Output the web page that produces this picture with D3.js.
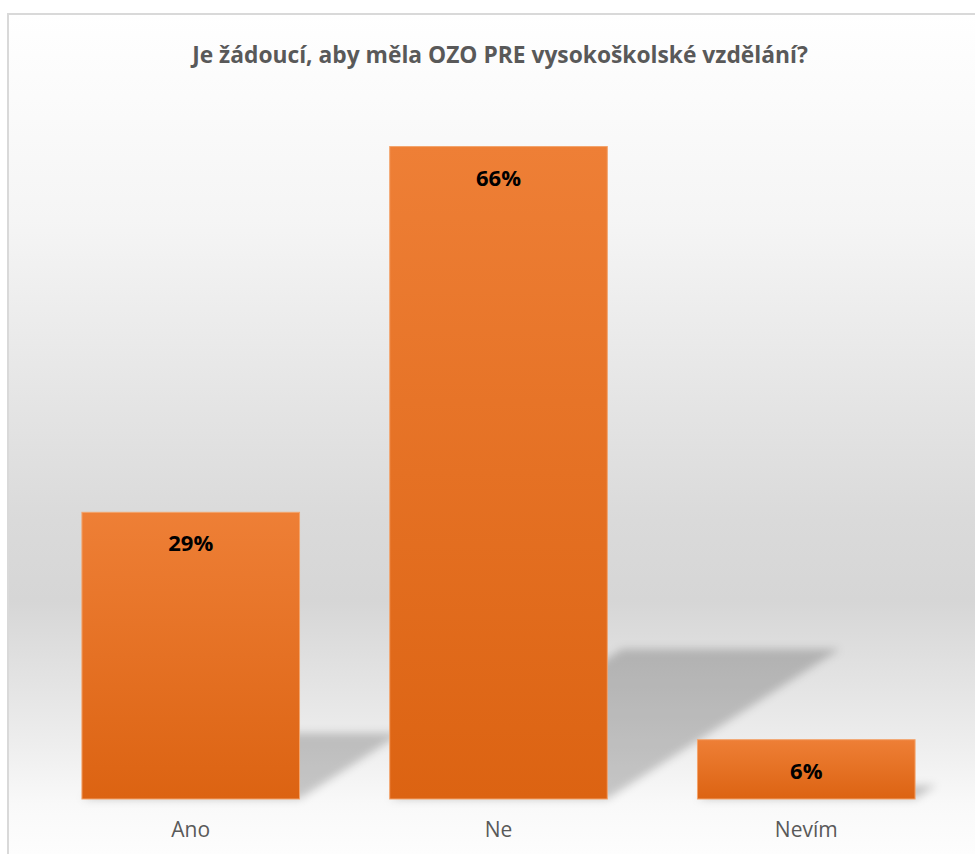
<!DOCTYPE html>
<html>
<head>
<meta charset="utf-8">
<script src="https://cdn.jsdelivr.net/npm/d3@7"></script>
<style>
  body { margin: 0; background: #fff; }
  svg { display: block; }
</style>
</head>
<body>
<svg id="chart" width="975" height="854"></svg>
<script>
let categories = ["Ano", "Ne", "Nevím"];
let values = [29, 66, 6];
let valueLabels = ["29%", "66%", "6%"];
let titleText = "Je žádoucí, aby měla OZO PRE vysokoškolské vzdělání?";

let svg = d3.select("#chart");
let width = +svg.attr("width");
let height = +svg.attr("height");
let font = "'Open Sans', 'Noto Sans', sans-serif";

let defs = svg.append("defs");

// Background gradient of the chart area.
let bg = defs.append("linearGradient")
    .attr("id", "bgGrad")
    .attr("gradientUnits", "userSpaceOnUse")
    .attr("x1", 0).attr("y1", 14).attr("x2", 0).attr("y2", 854);
[[14, "#ffffff"], [220, "#f5f5f5"], [520, "#dadada"], [600, "#d6d6d6"],
 [735, "#ececec"], [805, "#f9f9f9"], [854, "#fdfdfd"]].forEach(s => {
    bg.append("stop").attr("offset", (s[0] - 14) / 840).attr("stop-color", s[1]);
});

// Bar gradient.
let barGrad = defs.append("linearGradient")
    .attr("id", "barGrad")
    .attr("x1", 0).attr("y1", 0).attr("x2", 0).attr("y2", 1);
barGrad.append("stop").attr("offset", 0).attr("stop-color", "#ee7f36");
barGrad.append("stop").attr("offset", 1).attr("stop-color", "#dc6312");

defs.append("filter")
    .attr("id", "blur")
    .attr("x", "-20%").attr("y", "-20%").attr("width", "140%").attr("height", "140%")
    .append("feGaussianBlur").attr("stdDeviation", 4);

// Chart area with border.
svg.append("rect")
    .attr("x", 8).attr("y", 14)
    .attr("width", 1000).attr("height", 900)
    .attr("fill", "url(#bgGrad)")
    .attr("stroke", "#d9d9d9")
    .attr("stroke-width", 2);

// Title.
let title = svg.append("text")
    .attr("x", 500)
    .attr("y", 63)
    .attr("text-anchor", "middle")
    .attr("font-family", font)
    .attr("font-weight", "bold")
    .attr("font-size", 20)
    .attr("fill", "#595959")
    .text(titleText);
let tl = title.node().getComputedTextLength();
title.attr("font-size", 20 * 616 / tl);

// Scales.
let x = d3.scaleBand()
    .domain(categories)
    .range([37, 960])
    .paddingInner(0.293)
    .paddingOuter(0.146);

let y = d3.scaleLinear()
    .domain([0, 70])
    .range([799, 107]);

let data = categories.map((c, i) => ({ cat: c, value: values[i], label: valueLabels[i] }));

// Perspective shadows behind the bars.
let shadowRatio = 0.23, skew = 1.55;
svg.append("g")
    .attr("filter", "url(#blur)")
    .selectAll("path")
    .data(data)
    .join("path")
    .attr("d", d => {
        let x0 = x(d.cat), x1 = x(d.cat) + x.bandwidth();
        let b = y(0);
        let h = (y(0) - y(d.value)) * shadowRatio;
        let s = h * skew;
        return "M" + x0 + "," + b + "L" + x1 + "," + b +
            "L" + (x1 + s) + "," + (b - h) + "L" + (x0 + s) + "," + (b - h) + "Z";
    })
    .attr("fill", "#000")
    .attr("fill-opacity", 0.2);

// Bars.
svg.append("g")
    .selectAll("rect")
    .data(data)
    .join("rect")
    .attr("x", d => x(d.cat))
    .attr("y", d => y(d.value))
    .attr("width", x.bandwidth())
    .attr("height", d => y(0) - y(d.value))
    .attr("fill", "url(#barGrad)")
    .attr("stroke", "#f3a36b")
    .attr("stroke-width", 1);

// Value labels inside end.
svg.append("g")
    .selectAll("text")
    .data(data)
    .join("text")
    .attr("x", d => x(d.cat) + x.bandwidth() / 2)
    .attr("y", d => Math.min(y(d.value) + 39, y(0) - 17))
    .attr("text-anchor", "middle")
    .attr("font-family", font)
    .attr("font-weight", "bold")
    .attr("font-size", 22)
    .attr("fill", "#000")
    .text(d => d.label);

// Category axis labels.
let xAxis = svg.append("g")
    .attr("transform", "translate(0," + y(0) + ")")
    .call(d3.axisBottom(x).tickSize(0).tickPadding(23));
xAxis.select(".domain").remove();
xAxis.selectAll("text")
    .attr("font-family", font)
    .attr("font-size", 21)
    .attr("fill", "#595959");
</script>
</body>
</html>
